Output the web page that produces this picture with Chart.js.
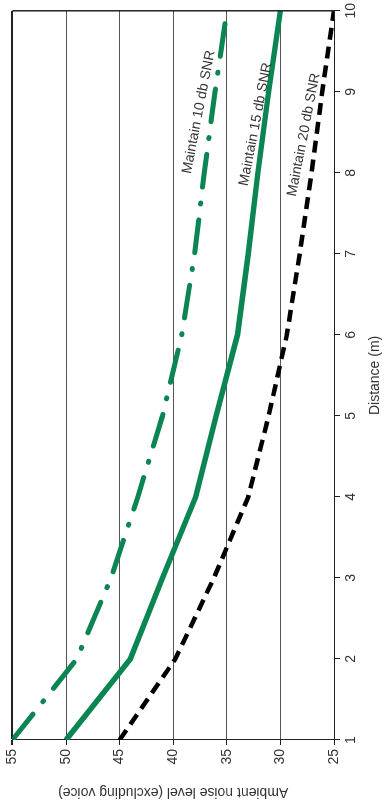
<!DOCTYPE html>
<html>
<head>
<meta charset="utf-8">
<script src="https://cdn.jsdelivr.net/npm/chart.js@4"></script>
<style>
  html, body { margin: 0; padding: 0; background: #fff; }
  /* the chart is drawn landscape and turned a quarter turn to the left */
  #wrap {
    position: absolute; left: 0; top: 0;
    width: 800px; height: 384px;
    transform-origin: 0 0;
    transform: translate(0, 800px) rotate(-90deg);
  }
</style>
</head>
<body>
<div id="wrap"><canvas id="chart" width="800" height="384"></canvas></div>
<script>
const distances = [1, 2, 3, 4, 5, 6, 7, 8, 9, 10];
const snr10 = [55, 49, 45.8, 43.3, 41, 39.2, 38, 37.1, 36.1, 35];
const snr15 = [50, 44, 41, 37.9, 36, 34, 33, 32.1, 31.1, 30];
const snr20 = [45, 39.8, 36.2, 33, 31.1, 29.4, 28.2, 27.1, 26.1, 25];
const seriesNames = ["Maintain 10 db SNR", "Maintain 15 db SNR", "Maintain 20 db SNR"];
const yMin = 25, yMax = 55, yStep = 5;

const green = "#0b8551";
const textColor = "#333";
const fontFamily = "'Liberation Sans', Arial, sans-serif";

const toPoints = (vals) => vals.map((v, i) => ({ x: distances[i], y: v }));

// writes each series name next to its line, tilted a little
const lineLabels = {
  id: "lineLabels",
  afterDatasetsDraw(chart, args, opts) {
    const { ctx, scales } = chart;
    ctx.save();
    ctx.font = opts.font;
    ctx.fillStyle = opts.color;
    ctx.textAlign = "center";
    ctx.textBaseline = "middle";
    opts.items.forEach((item) => {
      ctx.save();
      ctx.translate(scales.x.getPixelForValue(item.x), scales.y.getPixelForValue(item.y));
      ctx.rotate((item.angle * Math.PI) / 180);
      ctx.fillText(item.text, 0, 0);
      ctx.restore();
    });
    ctx.restore();
  },
};

// closing line on the far side of the plot
const frame = {
  id: "frame",
  afterDraw(chart) {
    const { ctx, chartArea } = chart;
    ctx.save();
    ctx.strokeStyle = "#222";
    ctx.lineWidth = 1.5;
    ctx.beginPath();
    ctx.moveTo(chartArea.right, chartArea.top);
    ctx.lineTo(chartArea.right, chartArea.bottom);
    ctx.stroke();
    ctx.restore();
  },
};

new Chart(document.getElementById("chart"), {
  type: "line",
  data: {
    datasets: [
      {
        label: seriesNames[0],
        data: toPoints(snr10),
        borderColor: green,
        borderWidth: 5,
        borderDash: [33, 16, 1, 16],
        borderCapStyle: "round",
      },
      {
        label: seriesNames[1],
        data: toPoints(snr15),
        borderColor: green,
        borderWidth: 5.5,
      },
      {
        label: seriesNames[2],
        data: toPoints(snr20),
        borderColor: "#000",
        borderWidth: 4.5,
        borderDash: [12, 7],
      },
    ],
  },
  options: {
    responsive: false,
    animation: false,
    layout: { padding: { top: 7, right: 2, left: 0, bottom: 0 } },
    elements: { point: { radius: 0 }, line: { tension: 0 } },
    plugins: {
      legend: { display: false },
      tooltip: { enabled: false },
      lineLabels: {
        font: "14px " + fontFamily,
        color: textColor,
        items: [
          { text: seriesNames[0], x: 8.75, y: 37.6, angle: 11 },
          { text: seriesNames[1], x: 8.6, y: 32.3, angle: 11 },
          { text: seriesNames[2], x: 8.47, y: 27.8, angle: 11 },
        ],
      },
    },
    scales: {
      x: {
        type: "linear",
        min: distances[0],
        max: distances[distances.length - 1],
        ticks: { stepSize: 1, color: textColor, font: { size: 14, family: fontFamily }, padding: 3, maxRotation: 0 },
        grid: { drawOnChartArea: false, tickLength: 6, color: "#222" },
        border: { color: "#222", width: 1 },
        title: { display: true, text: "Distance (m)", color: textColor, font: { size: 14, family: fontFamily }, padding: 0 },
        afterFit(scale) { scale.height = 50; },
      },
      y: {
        min: yMin,
        max: yMax,
        ticks: { stepSize: yStep, color: textColor, font: { size: 14, family: fontFamily }, padding: 4 },
        grid: {
          color: (c) => (c.tick && c.tick.value === yMax ? "#222" : "#555"),
          lineWidth: (c) => (c.tick && c.tick.value === yMax ? 2 : 1),
          tickLength: 5,
          tickColor: "#222",
        },
        border: { color: "#222", width: 1 },
        title: { display: true, text: "Ambient noise level (excluding voice)", color: textColor, font: { size: 14, family: fontFamily }, padding: 0 },
        afterFit(scale) { scale.width = 60; },
      },
    },
  },
  plugins: [lineLabels, frame],
});
</script>
</body>
</html>
